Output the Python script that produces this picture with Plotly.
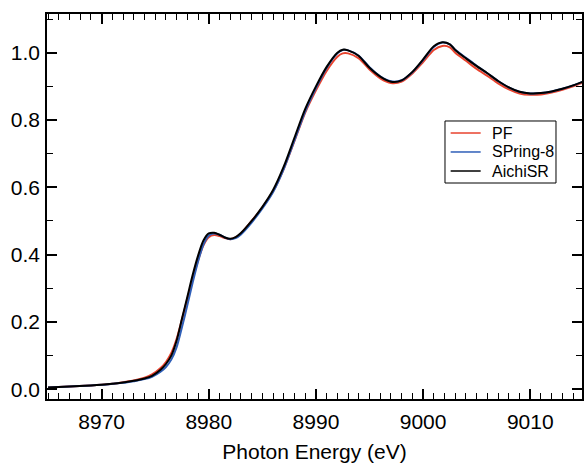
import plotly.graph_objects as go

# Photon energy grid (eV)
energy = [8965, 8967, 8969, 8970, 8971, 8972, 8973, 8974, 8974.7, 8975.5, 8976, 8976.5,
          8977, 8977.5, 8978, 8978.5, 8979, 8979.5, 8980, 8980.5, 8981, 8981.5, 8982,
          8982.5, 8983, 8984, 8985, 8986, 8987, 8988, 8989, 8990, 8991, 8992, 8992.5,
          8993, 8994, 8995, 8996, 8997, 8998, 8999, 9000, 9001, 9001.8, 9002.5, 9003,
          9004, 9005, 9006, 9007, 9008, 9009, 9010, 9011, 9012, 9013, 9014, 9015]

aichisr = [0.005, 0.008, 0.011, 0.013, 0.016, 0.020, 0.025, 0.032, 0.040, 0.058, 0.075, 0.100,
           0.145, 0.210, 0.275, 0.340, 0.397, 0.442, 0.463, 0.465, 0.459, 0.451, 0.447,
           0.452, 0.464, 0.500, 0.542, 0.592, 0.662, 0.748, 0.833, 0.900, 0.958, 1.000, 1.009,
           1.007, 0.990, 0.955, 0.929, 0.914, 0.918, 0.943, 0.980, 1.019, 1.031, 1.025, 1.008,
           0.983, 0.960, 0.939, 0.916, 0.897, 0.884, 0.879, 0.880, 0.885, 0.893, 0.903, 0.915]

spring8 = [0.005, 0.008, 0.011, 0.013, 0.016, 0.019, 0.024, 0.030, 0.037, 0.052, 0.066, 0.088,
           0.125, 0.185, 0.250, 0.318, 0.380, 0.430, 0.457, 0.463, 0.459, 0.451, 0.446,
           0.449, 0.460, 0.495, 0.537, 0.586, 0.655, 0.740, 0.826, 0.895, 0.955, 0.998, 1.008,
           1.007, 0.991, 0.957, 0.930, 0.915, 0.918, 0.942, 0.978, 1.017, 1.030, 1.025, 1.009,
           0.985, 0.961, 0.939, 0.916, 0.897, 0.884, 0.879, 0.880, 0.885, 0.893, 0.903, 0.915]

pf = [0.005, 0.008, 0.011, 0.013, 0.016, 0.021, 0.026, 0.034, 0.044, 0.063, 0.081, 0.108,
      0.150, 0.208, 0.268, 0.328, 0.383, 0.428, 0.452, 0.458, 0.455, 0.449, 0.446,
      0.451, 0.463, 0.500, 0.540, 0.588, 0.655, 0.738, 0.822, 0.888, 0.946, 0.988, 0.998,
      0.998, 0.983, 0.950, 0.924, 0.910, 0.914, 0.938, 0.972, 1.008, 1.020, 1.016, 1.000,
      0.976, 0.952, 0.931, 0.909, 0.891, 0.879, 0.875, 0.876, 0.882, 0.890, 0.900, 0.912]

x_ticks = [8970, 8980, 8990, 9000, 9010]
y_ticks = [0.0, 0.2, 0.4, 0.6, 0.8, 1.0]
y_ticktext = ["0.0", "0.2", "0.4", "0.6", "0.8", "1.0"]

series_names = ["PF", "SPring-8", "AichiSR"]
series_values = [pf, spring8, aichisr]
series_colors = ["#e8432e", "#2f5fb8", "#000000"]

fig = go.Figure()
for i, (name, vals, color) in enumerate(zip(series_names, series_values, series_colors)):
    # last (top-most) trace lives on the mirrored top/right axes so they get drawn
    on_top = (i == len(series_names) - 1)
    fig.add_trace(go.Scatter(x=energy, y=vals, mode="lines", name=name, showlegend=False,
                             xaxis="x2" if on_top else "x", yaxis="y2" if on_top else "y",
                             line=dict(color=color, width=2, shape="spline", smoothing=0.8)))

font = "Liberation Sans, Arial, Helvetica, sans-serif"
XR = [8964.9, 9014.83]
YR = [-0.029, 1.115]
tick_common = dict(ticks="inside", ticklen=10, tickwidth=1.5, tickcolor="black",
                   showgrid=False, zeroline=False, automargin=False)
xminor = dict(dtick=1, tick0=8965, ticks="inside", ticklen=6, tickwidth=1.2,
              tickcolor="black", showgrid=False)
yminor = dict(dtick=0.1, tick0=0, ticks="inside", ticklen=6, tickwidth=1.2,
              tickcolor="black", showgrid=False)

# legend drawn as a boxed key in the upper right of the plot area
shapes = [dict(type="rect", xref="paper", yref="paper", x0=0.7439, x1=0.9514,
               y0=0.5610, y1=0.7221, line=dict(color="black", width=1),
               fillcolor="white", layer="above")]
annotations = []
row_y = [0.6909, 0.6416, 0.5922]
for name, color, yy in zip(series_names, series_colors, row_y):
    shapes.append(dict(type="line", xref="paper", yref="paper", x0=0.7545, x1=0.8106,
                       y0=yy, y1=yy, line=dict(color=color, width=1.5), layer="above"))
    annotations.append(dict(text=name, xref="paper", yref="paper", x=0.8277, y=yy,
                            xanchor="left", yanchor="middle", showarrow=False,
                            font=dict(family=font, size=16, color="black")))

fig.update_layout(
    width=584, height=463,
    margin=dict(l=47, r=2, t=14, b=64),
    paper_bgcolor="white", plot_bgcolor="white",
    showlegend=False,
    shapes=shapes, annotations=annotations,
    xaxis=dict(range=XR, tickvals=x_ticks, minor=xminor,
               showline=True, linecolor="black", linewidth=1.5, mirror=True,
               tickfont=dict(family=font, size=21, color="black"),
               ticklabelstandoff=3,
               title=dict(text="Photon Energy (eV)",
                          font=dict(family=font, size=21, color="black"), standoff=15),
               **tick_common),
    yaxis=dict(range=YR, tickvals=y_ticks, ticktext=y_ticktext, minor=yminor,
               showline=True, linecolor="black", linewidth=1.5, mirror=True,
               tickfont=dict(family=font, size=21, color="black"),
               ticklabelstandoff=1,
               **tick_common),
    xaxis2=dict(range=XR, tickvals=x_ticks, minor=xminor, overlaying="x", side="top",
                anchor="y", showticklabels=False, showline=False, **tick_common),
    yaxis2=dict(range=YR, tickvals=y_ticks, minor=yminor, overlaying="y", side="right",
                anchor="x", showticklabels=False, showline=False, **tick_common),
)

fig.write_html("out.html", config={"displayModeBar": False},
               post_script="document.body.style.margin='0';document.body.style.overflow='hidden';")
